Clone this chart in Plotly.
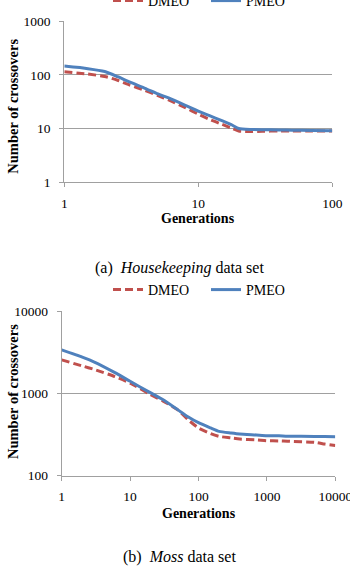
import plotly.graph_objects as go

W, H = 350, 566

# ---------- data ----------
gen_a = [1, 1.5, 2, 2.5, 3, 4, 5, 6, 8, 10, 12, 15, 18, 20, 25, 30, 40, 50, 70, 100]
pmeo_a = [145, 130, 115, 92, 75, 56, 44, 37, 27, 21, 17.5, 14, 11.5, 10, 9.6, 9.5, 9.4, 9.3, 9.2, 9.1]
dmeo_a = [114, 103, 93, 79, 66, 51, 41, 34, 24.5, 18.5, 15, 12, 10, 9.0, 8.8, 8.9, 9.0, 9.0, 9.0, 9.0]

gen_b = [1, 2, 3, 6, 10, 18.5, 30, 50, 70, 100, 150, 200, 300, 400, 700, 1000, 1500, 2000, 5000, 7000, 10000]
pmeo_b = [3370, 2750, 2400, 1785, 1400, 1050, 840, 630, 520, 440, 380, 345, 330, 321, 312, 306, 305, 302, 300, 299, 298]
dmeo_b = [2550, 2150, 1950, 1595, 1330, 1000, 810, 628, 480, 380, 325, 300, 288, 279, 272, 266, 264, 262, 254, 242, 232]

xticks_a = [1, 10, 100]
yticks_a = [1, 10, 100, 1000]
xticks_b = [1, 10, 100, 1000, 10000]
yticks_b = [100, 1000, 10000]

RED = "#C0504D"
BLUE = "#4F81BD"
GRID = "#A0A0A0"
FONT = "'Times New Roman', 'Liberation Serif', serif"


def px_x(p):
    return p / W


def px_y(p):
    return 1 - p / H


fig = go.Figure()

fig.add_trace(go.Scatter(x=gen_a, y=dmeo_a, mode="lines", name="DMEO",
                         line=dict(color=RED, width=3, dash="8px,4px", shape="spline", smoothing=0.6),
                         xaxis="x", yaxis="y", legend="legend"))
fig.add_trace(go.Scatter(x=gen_a, y=pmeo_a, mode="lines", name="PMEO",
                         line=dict(color=BLUE, width=3, shape="spline", smoothing=0.6),
                         xaxis="x", yaxis="y", legend="legend"))
fig.add_trace(go.Scatter(x=gen_b, y=dmeo_b, mode="lines", name="DMEO",
                         line=dict(color=RED, width=3, dash="8px,4px", shape="spline", smoothing=0.6),
                         xaxis="x2", yaxis="y2", legend="legend2"))
fig.add_trace(go.Scatter(x=gen_b, y=pmeo_b, mode="lines", name="PMEO",
                         line=dict(color=BLUE, width=3, shape="spline", smoothing=0.6),
                         xaxis="x2", yaxis="y2", legend="legend2"))

tickfont = dict(family=FONT, size=13.5, color="#000000")

common_x = dict(type="log", showgrid=False, showline=True, linecolor=GRID, linewidth=1,
                ticks="outside", ticklen=4, tickcolor=GRID, tickfont=tickfont,
                zeroline=False, ticklabelstandoff=4, fixedrange=True,
                ticklabeloverflow="allow")
common_y = dict(type="log", showgrid=True, gridcolor=GRID, gridwidth=1, showline=True,
                linecolor=GRID, linewidth=1, ticks="outside", ticklen=4, tickcolor=GRID,
                tickfont=tickfont, zeroline=False, ticklabelstandoff=6, fixedrange=True,
                ticklabeloverflow="allow")

legend_common = dict(orientation="h", xanchor="left", yanchor="middle",
                     font=dict(family=FONT, size=14, color="#000000"),
                     bgcolor="rgba(0,0,0,0)", borderwidth=0, itemwidth=30,
                     entrywidth=53, tracegroupgap=0)

fig.update_layout(
    width=W, height=H,
    margin=dict(l=0, r=0, t=0, b=0, autoexpand=False),
    paper_bgcolor="white", plot_bgcolor="white",
    font=dict(family=FONT, color="#000000"),
    xaxis=dict(common_x, domain=[px_x(64.3), px_x(332.3)], range=[0, 2], anchor="y",
               tickvals=xticks_a, ticktext=[str(v) for v in xticks_a]),
    yaxis=dict(common_y, domain=[px_y(182.3), px_y(21)], range=[0, 3], anchor="x",
               tickvals=yticks_a, ticktext=[str(v) for v in yticks_a]),
    xaxis2=dict(common_x, domain=[px_x(61.7), px_x(335.3)], range=[0, 4], anchor="y2",
                tickvals=xticks_b, ticktext=[str(v) for v in xticks_b]),
    yaxis2=dict(common_y, domain=[px_y(475.7), px_y(311)], range=[2, 4], anchor="x2",
                tickvals=yticks_b, ticktext=[str(v) for v in yticks_b]),
    legend=dict(legend_common, x=px_x(108), y=px_y(1)),
    legend2=dict(legend_common, x=px_x(108), y=px_y(290)),
    showlegend=True,
)

ann_title = dict(family=FONT, size=14, color="#000000")
annotations = [
    dict(text="<b>Number of crossovers</b>", x=px_x(13), y=px_y(106.7), textangle=-90,
         font=dict(family=FONT, size=14.5, color="#000000")),
    dict(text="<b>Generations</b>", x=px_x(198), y=px_y(218), font=ann_title),
    dict(text="(a)  <i>Housekeeping</i> data set", x=px_x(179), y=px_y(268),
         font=dict(family=FONT, size=16, color="#000000")),
    dict(text="<b>Number of crossovers</b>", x=px_x(13), y=px_y(392), textangle=-90,
         font=dict(family=FONT, size=14.5, color="#000000")),
    dict(text="<b>Generations</b>", x=px_x(199), y=px_y(513), font=ann_title),
    dict(text="(b)  <i>Moss</i> data set", x=px_x(179), y=px_y(557),
         font=dict(family=FONT, size=16, color="#000000")),
]
for a in annotations:
    a.update(xref="paper", yref="paper", showarrow=False, xanchor="center", yanchor="middle")
fig.update_layout(annotations=annotations)

fig.write_html("out.html")
